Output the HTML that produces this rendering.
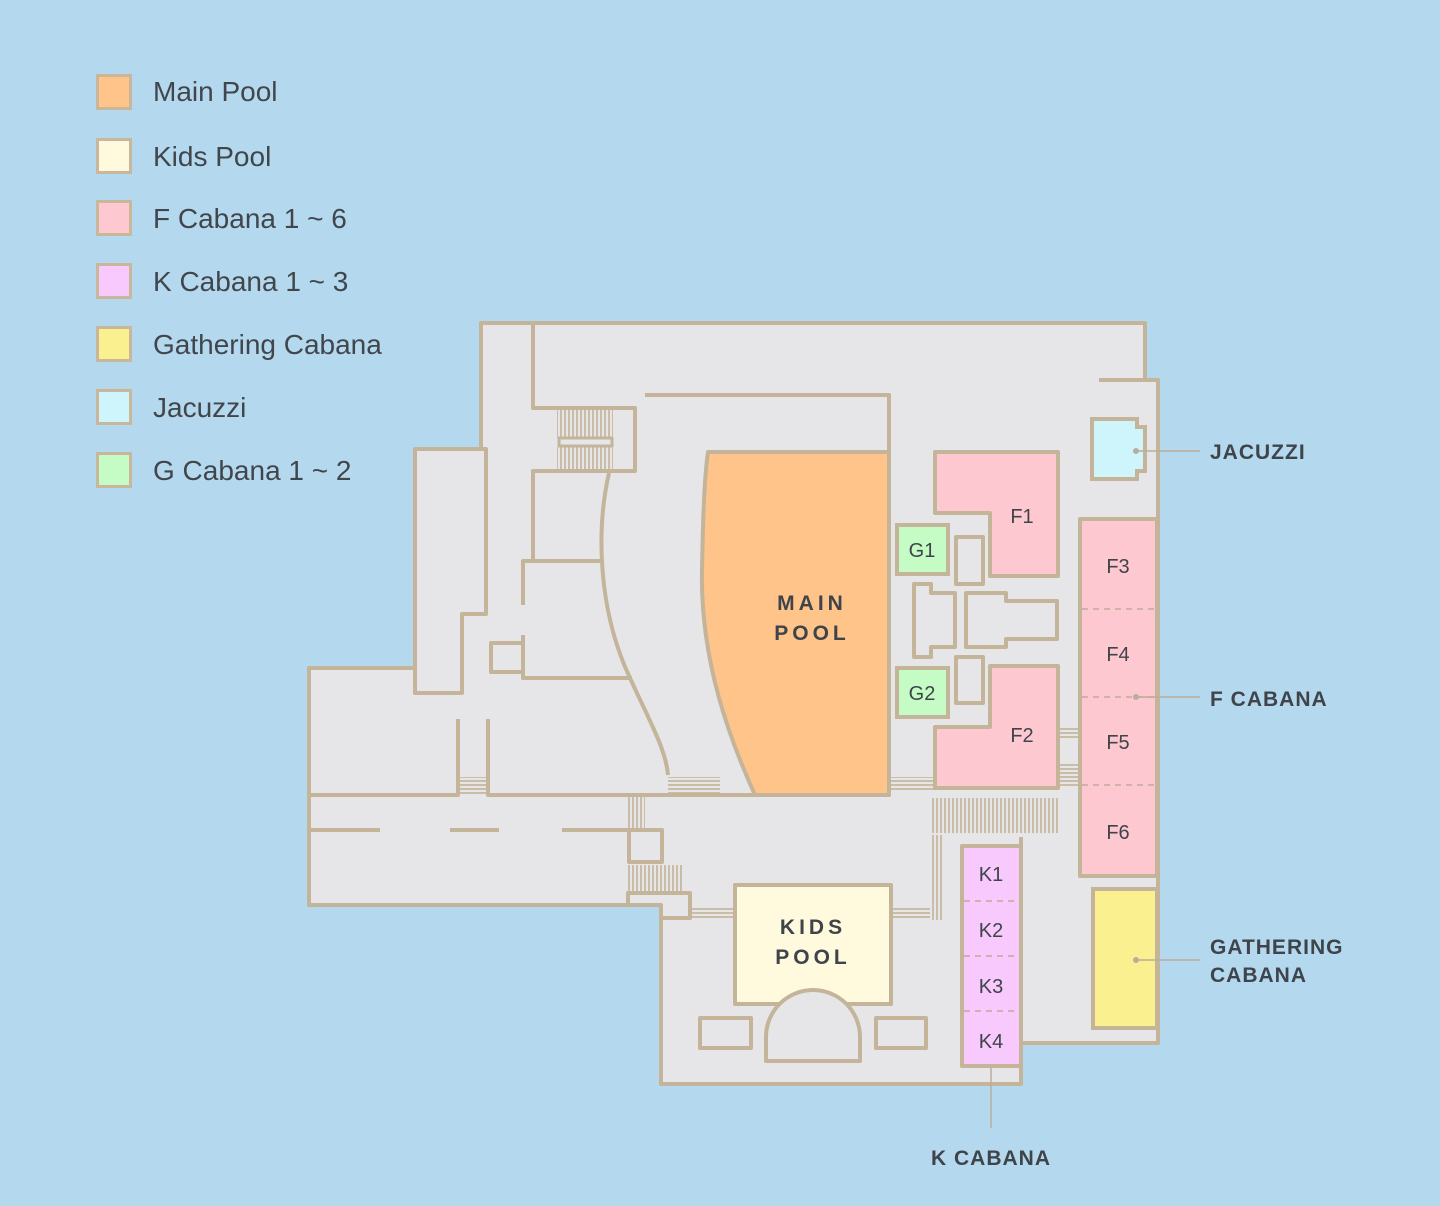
<!DOCTYPE html>
<html><head><meta charset="utf-8"><style>
html,body{margin:0;padding:0;background:#b4d9ee;}
svg{display:block}
text{font-family:"Liberation Sans",sans-serif;fill:#41464c;}
.w{fill:none;stroke:#c3b49a;stroke-width:4;stroke-linejoin:round}
.d{stroke:#c3a99a;stroke-width:1.5;stroke-dasharray:6 5;fill:none}
.lg{font-size:28px;font-weight:500;letter-spacing:0px}
.lb{font-size:21px;font-weight:700;letter-spacing:1px;fill:#3f444a}
.rm{font-size:20px;font-weight:500;fill:#3f444a}
.ld{stroke:#b9ae9c;stroke-width:1.5}
</style></head><body>
<svg width="1440" height="1206" viewBox="0 0 1440 1206" xmlns="http://www.w3.org/2000/svg">
<defs>
<pattern id="hv" width="4" height="4" patternUnits="userSpaceOnUse"><rect width="4" height="4" fill="#e6e6e8"/><rect width="2" height="4" fill="#c9bda8"/></pattern>
<pattern id="hh" width="4" height="4" patternUnits="userSpaceOnUse"><rect width="4" height="4" fill="#e6e6e8"/><rect width="4" height="2" fill="#c9bda8"/></pattern>
</defs>
<rect width="1440" height="1206" fill="#b4d9ee"/>
<g stroke="#c9b79c" stroke-width="3">
<rect x="97.5" y="75.5" width="33" height="33" fill="#fec489"/>
<rect x="97.5" y="139.5" width="33" height="33" fill="#fffade"/>
<rect x="97.5" y="201.5" width="33" height="33" fill="#fec8d0"/>
<rect x="97.5" y="264.5" width="33" height="33" fill="#f8c9fd"/>
<rect x="97.5" y="327.5" width="33" height="33" fill="#faf08f"/>
<rect x="97.5" y="390.5" width="33" height="33" fill="#cef5fc"/>
<rect x="97.5" y="453.5" width="33" height="33" fill="#c5fcc6"/>
</g>
<g>
<text x="153" y="101" class="lg">Main Pool</text>
<text x="153" y="166" class="lg">Kids Pool</text>
<text x="153" y="228" class="lg">F Cabana 1 ~ 6</text>
<text x="153" y="291" class="lg">K Cabana 1 ~ 3</text>
<text x="153" y="354" class="lg">Gathering Cabana</text>
<text x="153" y="417" class="lg">Jacuzzi</text>
<text x="153" y="480" class="lg">G Cabana 1 ~ 2</text>
</g>
<polygon points="481,323 1145,323 1145,380 1158,380 1158,1043 1022,1043 1022,1084 661,1084 661,905 309,905 309,668 415,668 415,449 481,449" fill="#e6e6e8"/>
<rect x="557" y="410" width="56" height="28" fill="url(#hv)"/>
<rect x="557" y="447" width="56" height="24" fill="url(#hv)"/>
<rect x="460" y="777" width="28" height="17" fill="url(#hh)"/>
<rect x="668" y="777" width="52" height="17" fill="url(#hh)"/>
<rect x="628" y="796" width="17" height="34" fill="url(#hv)"/>
<rect x="628" y="865" width="55" height="27" fill="url(#hv)"/>
<rect x="692" y="908" width="42" height="12" fill="url(#hh)"/>
<rect x="892" y="908" width="40" height="12" fill="url(#hh)"/>
<rect x="930" y="835" width="14" height="85" fill="url(#hv)"/>
<rect x="930" y="798" width="128" height="35" fill="url(#hv)"/>
<rect x="890" y="777" width="45" height="15" fill="url(#hh)"/>
<rect x="1058" y="727" width="21" height="13" fill="url(#hh)"/>
<rect x="1058" y="763" width="21" height="24" fill="url(#hh)"/>
<polyline class="w" points="481,449 481,323 1145,323 1145,380"/>
<polyline class="w" points="1099,380 1158,380 1158,1043 1022,1043"/>
<polyline class="w" points="1021,837 1021,1084 661,1084 661,905 309,905 309,668 415,668"/>
<polygon class="w" points="415,449 486,449 486,614 462,614 462,693 415,693"/>
<polyline class="w" points="533,323 533,408 635,408 635,471 533,471 533,561"/>
<rect class="w" x="559" y="438" width="53" height="8" style="stroke-width:3"/>
<polyline class="w" points="603,561 523,561 523,605"/>
<polyline class="w" points="523,635 523,678 632,678"/>
<rect class="w" x="491" y="643" width="32" height="29"/>
<polyline class="w" points="645,395 889,395 889,452"/>
<path class="w" d="M609,473 C596,530 598,610 630,678 C650,722 666,750 668,775"/>
<polyline class="w" points="458,719 458,795 309,795"/>
<polyline class="w" points="488,719 488,795 755,795"/>
<line class="w" x1="309" y1="830" x2="380" y2="830"/>
<line class="w" x1="450" y1="830" x2="499" y2="830"/>
<line class="w" x1="562" y1="830" x2="628" y2="830"/>
<rect class="w" x="629" y="830" width="33" height="32"/>
<polyline class="w" points="628,905 628,893 690,893 690,918 661,918"/>
<path d="M708,452 L889,452 L889,795 L755,795 C730,740 700,660 702,570 C703,520 704,480 708,452 Z" fill="#fec489" stroke="#c3b49a" stroke-width="4" stroke-linejoin="round"/>
<text class="lb" x="812" y="610" text-anchor="middle" style="letter-spacing:4px">MAIN</text>
<text class="lb" x="812" y="640" text-anchor="middle" style="letter-spacing:4px">POOL</text>
<polygon points="1092,419 1137,419 1137,427 1145,427 1145,471 1137,471 1137,479 1092,479" fill="#cef5fc" stroke="#c3b49a" stroke-width="4"/>
<polygon points="935,452 1058,452 1058,576 990,576 990,513 935,513" fill="#fec8d0" stroke="#c3b49a" stroke-width="4" stroke-linejoin="round"/>
<polygon points="990,666 1058,666 1058,788 935,788 935,727 990,727" fill="#fec8d0" stroke="#c3b49a" stroke-width="4" stroke-linejoin="round"/>
<text class="rm" x="1022" y="523" text-anchor="middle">F1</text>
<text class="rm" x="1022" y="742" text-anchor="middle">F2</text>
<rect x="897" y="525" width="51" height="49" fill="#c5fcc6" stroke="#c3b49a" stroke-width="4"/>
<rect x="897" y="668" width="51" height="49" fill="#c5fcc6" stroke="#c3b49a" stroke-width="4"/>
<text class="rm" x="922" y="557" text-anchor="middle">G1</text>
<text class="rm" x="922" y="700" text-anchor="middle">G2</text>
<rect class="w" x="956" y="537" width="27" height="47"/>
<rect class="w" x="956" y="657" width="27" height="46"/>
<polygon class="w" points="914,584 931,584 931,593 955,593 955,647 931,647 931,657 914,657"/>
<polygon class="w" points="966,593 1006,593 1006,601 1057,601 1057,639 1006,639 1006,647 966,647"/>
<rect x="1080" y="519" width="77" height="357" fill="#fec8d0" stroke="#c3b49a" stroke-width="4" stroke-linejoin="round"/>
<line class="d" x1="1082" y1="609" x2="1156" y2="609"/>
<line class="d" x1="1082" y1="697" x2="1156" y2="697"/>
<line class="d" x1="1082" y1="785" x2="1156" y2="785"/>
<text class="rm" x="1118" y="573" text-anchor="middle">F3</text>
<text class="rm" x="1118" y="661" text-anchor="middle">F4</text>
<text class="rm" x="1118" y="749" text-anchor="middle">F5</text>
<text class="rm" x="1118" y="839" text-anchor="middle">F6</text>
<rect x="1093" y="889" width="64" height="139" fill="#faf08f" stroke="#c3b49a" stroke-width="4"/>
<rect x="962" y="846" width="59" height="220" fill="#f8c9fd" stroke="#c3b49a" stroke-width="4" stroke-linejoin="round"/>
<line class="d" x1="964" y1="901" x2="1019" y2="901"/>
<line class="d" x1="964" y1="956" x2="1019" y2="956"/>
<line class="d" x1="964" y1="1011" x2="1019" y2="1011"/>
<text class="rm" x="991" y="881" text-anchor="middle">K1</text>
<text class="rm" x="991" y="937" text-anchor="middle">K2</text>
<text class="rm" x="991" y="993" text-anchor="middle">K3</text>
<text class="rm" x="991" y="1048" text-anchor="middle">K4</text>
<rect x="735" y="885" width="156" height="119" fill="#fffade" stroke="#c3b49a" stroke-width="4" stroke-linejoin="round"/>
<text class="lb" x="813" y="934" text-anchor="middle" style="letter-spacing:4px">KIDS</text>
<text class="lb" x="813" y="964" text-anchor="middle" style="letter-spacing:4px">POOL</text>
<path d="M766,1061 L766,1037 A47,47 0 0 1 860,1037 L860,1061 Z" fill="#e6e6e8" stroke="#c3b49a" stroke-width="4" stroke-linejoin="round"/>
<rect class="w" x="700" y="1018" width="51" height="30"/>
<rect class="w" x="876" y="1018" width="50" height="30"/>
<line class="ld" x1="1136" y1="451" x2="1200" y2="451"/><circle cx="1136" cy="451" r="3" fill="#b9ae9c"/>
<line class="ld" x1="1136" y1="697" x2="1200" y2="697"/><circle cx="1136" cy="697" r="3" fill="#b9ae9c"/>
<line class="ld" x1="1136" y1="960" x2="1200" y2="960"/><circle cx="1136" cy="960" r="3" fill="#b9ae9c"/>
<line class="ld" x1="991" y1="1067" x2="991" y2="1128"/>
<text class="lb" x="1210" y="459">JACUZZI</text>
<text class="lb" x="1210" y="706">F CABANA</text>
<text class="lb" x="1210" y="954">GATHERING</text>
<text class="lb" x="1210" y="982">CABANA</text>
<text class="lb" x="991" y="1165" text-anchor="middle">K CABANA</text>
</svg>
</body></html>
